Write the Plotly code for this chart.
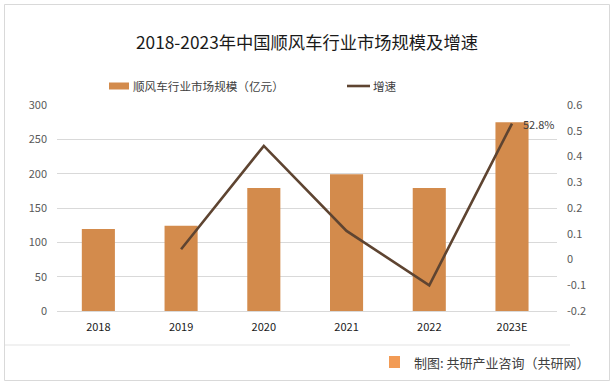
import plotly.graph_objects as go

categories = ["2018", "2019", "2020", "2021", "2022", "2023E"]
market_size = [119.5, 124, 179, 199, 179, 275]
growth_years = ["2019", "2020", "2021", "2022", "2023E"]
growth_rate = [0.04, 0.441, 0.111, -0.10, 0.528]
left_ticks = [0, 50, 100, 150, 200, 250, 300]
right_ticks = [-0.2, -0.1, 0, 0.1, 0.2, 0.3, 0.4, 0.5, 0.6]
right_labels = ["-0.2", "-0.1", "0", "0.1", "0.2", "0.3", "0.4", "0.5", "0.6"]
last_label = "52.8%"
bar_name = "顺风车行业市场规模（亿元）"
line_name = "增速"

W, H = 614, 386
L, R, T, B = 57, 57, 105, 75
pw, ph = W - L - R, H - T - B

def px(x):
    return (x - L) / pw

def py(y):
    return (H - B - y) / ph

font_family = "Noto Sans CJK SC, Noto Sans, sans-serif"
bar_color = "#D38B4C"
line_color = "#5E4431"

fig = go.Figure()
fig.add_trace(go.Bar(
    x=categories, y=market_size, name=bar_name,
    marker=dict(color=bar_color, line=dict(width=0)), width=0.4, showlegend=False,
))
fig.add_trace(go.Scatter(
    x=growth_years, y=growth_rate, name=line_name, yaxis="y2", mode="lines",
    line=dict(color=line_color, width=2.6), showlegend=False,
))

fig.add_annotation(x=categories[-1], y=growth_rate[-1], yref="y2", text=last_label,
                   showarrow=False, xanchor="left", yanchor="middle", xshift=9,
                   font=dict(size=11, color="#404040"))

# title
fig.add_annotation(x=px(307), y=py(42), xref="paper", yref="paper",
                   text="2018-2023年中国顺风车行业市场规模及增速", showarrow=False,
                   font=dict(size=17.3, color="#1a1a1a"), xanchor="center", yanchor="middle")

# custom legend
fig.add_shape(type="rect", xref="paper", yref="paper",
              x0=px(109), x1=px(129), y0=py(89.5), y1=py(82.5),
              fillcolor=bar_color, line=dict(width=0))
fig.add_annotation(x=px(131), y=py(86), xref="paper", yref="paper", text=bar_name,
                   showarrow=False, xanchor="left", yanchor="middle",
                   font=dict(size=11.6, color="#404040"))
fig.add_shape(type="line", xref="paper", yref="paper",
              x0=px(347), x1=px(370), y0=py(86), y1=py(86),
              line=dict(color=line_color, width=2.6))
fig.add_annotation(x=px(371), y=py(86), xref="paper", yref="paper", text=line_name,
                   showarrow=False, xanchor="left", yanchor="middle",
                   font=dict(size=11.6, color="#404040"))

# footer
fig.add_annotation(x=px(592), y=py(362), xref="paper", yref="paper",
                   text="制图: 共研产业咨询（共研网）", showarrow=False,
                   font=dict(size=13, color="#404040"), xanchor="right", yanchor="middle")
fig.add_shape(type="rect", xref="paper", yref="paper",
              x0=px(389), x1=px(400), y0=py(368), y1=py(356),
              fillcolor="#F29B55", line=dict(width=0))

# separator line & outer border
fig.add_shape(type="line", xref="paper", yref="paper",
              x0=px(5), x1=px(570), y0=py(345), y1=py(345),
              line=dict(color="#E3E3E3", width=1))
fig.add_shape(type="rect", xref="paper", yref="paper",
              x0=px(4.5), x1=px(609.5), y0=py(4.5), y1=py(380.5),
              line=dict(color="#D9D9D9", width=1))

fig.update_layout(
    width=W, height=H,
    margin=dict(l=L, r=R, t=T, b=B, autoexpand=False),
    paper_bgcolor="white", plot_bgcolor="white",
    font=dict(family=font_family, size=11, color="#595959"),
    bargap=0.6,
    showlegend=False,
    xaxis=dict(showgrid=False, showline=True, linecolor="#D9D9D9", linewidth=1,
               ticks="", tickfont=dict(size=11, color="#1a1a1a"), ticklabelstandoff=6),
    yaxis=dict(range=[0, 300], tickvals=left_ticks, showgrid=True, gridcolor="#D9D9D9",
               gridwidth=1, zeroline=False, showline=False, ticks="",
               ticklabelstandoff=9, tickfont=dict(size=11, color="#595959")),
    yaxis2=dict(range=[-0.2, 0.6], tickvals=right_ticks, ticktext=right_labels,
                overlaying="y", side="right", showgrid=False, zeroline=False,
                showline=False, ticks="", ticklabelstandoff=9,
                tickfont=dict(size=11, color="#595959")),
)

fig.write_html("out.html", config={"displayModeBar": False},
               post_script="document.body.style.margin='0';document.body.style.overflow='hidden';")
